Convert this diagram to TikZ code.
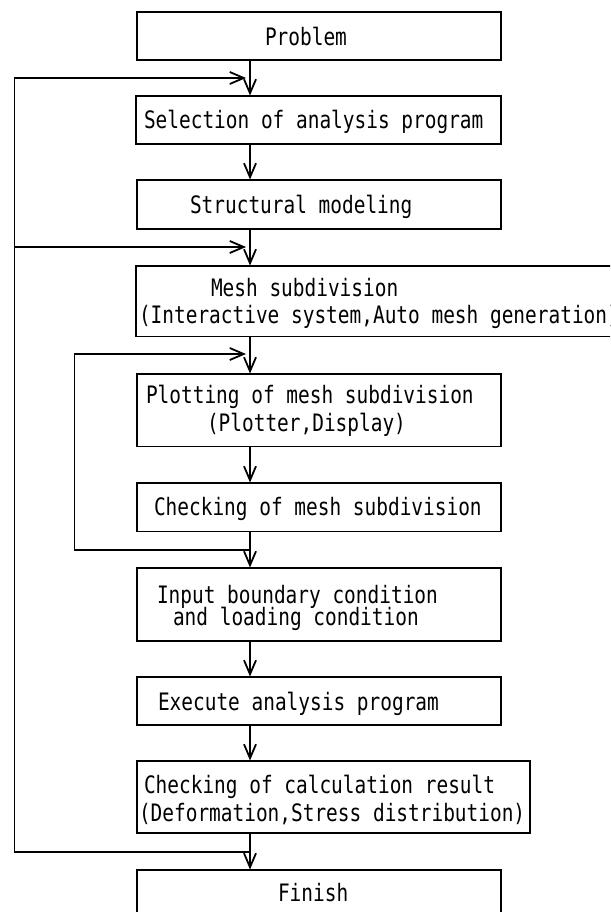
\documentclass[tikz,border=0pt]{standalone}
\usepackage{fontspec}
\setmainfont[FakeStretch=0.81]{DejaVu Sans Mono}
\usetikzlibrary{arrows.meta}
\begin{document}
\begin{tikzpicture}[x=1pt,y=-1pt,
  box/.style={draw, line width=1.3pt, rectangle, inner sep=0pt, outer sep=0pt, anchor=north west},
  txt/.style={anchor=base west, inner sep=0pt, outer sep=0pt, font=\fontsize{24}{28}\selectfont},
  arr/.style={line width=1.3pt, -{Straight Barb[length=14pt,width=12pt,line width=1.8pt]}, shorten >=0.5pt},
  harr/.style={arr, shorten >=4pt},
  ln/.style={line width=1.3pt}]
\useasboundingbox (0,0) rectangle (610,912);
\fill[white] (0,0) rectangle (610,912);
\clip (0,0) rectangle (610,912);
% boxes
\node[box, minimum width=364pt, minimum height=48pt]   (b1)  at (137,12)  {};
\node[box, minimum width=365pt, minimum height=48pt]   (b2)  at (136,96)  {};
\node[box, minimum width=364pt, minimum height=49pt]   (b3)  at (137,180) {};
\node[box, minimum width=500pt, minimum height=70.5pt] (b4)  at (136,266) {};
\node[box, minimum width=364pt, minimum height=72.5pt] (b5)  at (137,374) {};
\node[box, minimum width=364pt, minimum height=48.5pt] (b6)  at (137,483) {};
\node[box, minimum width=364pt, minimum height=73pt]   (b7)  at (137,568) {};
\node[box, minimum width=364pt, minimum height=48pt]   (b8)  at (137,677) {};
\node[box, minimum width=393pt, minimum height=72pt]   (b9)  at (137,761) {};
\node[box, minimum width=364pt, minimum height=60pt]   (b10) at (137,870) {};
% texts
\node[txt] (t1)  at (265,45.5)  {Problem};
\node[txt] (t2)  at (144,128.5) {Selection of analysis program};
\node[txt] (t3)  at (190,213.5) {Structural modeling};
\node[txt] (t4a) at (211,296.5) {Mesh subdivision};
\node[txt] (t4b) at (139,323.5) {(Interactive system,Auto mesh generation)};
\node[txt] (t5a) at (146,403.5) {Plotting of mesh subdivision};
\node[txt] (t5b) at (207,431.5) {(Plotter,Display)};
\node[txt] (t6)  at (154,515.5) {Checking of mesh subdivision};
\node[txt] (t7a) at (157,603.5) {Input boundary condition};
\node[txt] (t7b) at (173,625.5) {and loading condition};
\node[txt] (t8)  at (158,710.5) {Execute analysis program};
\node[txt] (t9a) at (144,793.5) {Checking of calculation result};
\node[txt] (t9b) at (139,821.5) {(Deformation,Stress distribution)};
\node[txt] (t10) at (278,901.5) {Finish};
% main arrows
\coordinate (ax) at (250,0);
\draw[arr] (b1.south -| ax) -- (b2.north -| ax);
\draw[arr] (b2.south -| ax) -- (b3.north -| ax);
\draw[arr] (b3.south -| ax) -- (b4.north -| ax);
\draw[arr] (b4.south -| ax) -- (b5.north -| ax);
\draw[arr] (b5.south -| ax) -- (b6.north -| ax);
\draw[arr] (b6.south -| ax) -- (b7.north -| ax);
\draw[arr] (b7.south -| ax) -- (b8.north -| ax);
\draw[arr] (b8.south -| ax) -- (b9.north -| ax);
\draw[arr] (b9.south -| ax) -- (b10.north -| ax);
% outer feedback loop
\coordinate (oj) at (250,852);
\coordinate (ob) at (14.4,852);
\coordinate (ot) at (14.4,78);
\coordinate (e1) at (250,78);
\coordinate (om) at (14.4,247);
\coordinate (e2) at (250,247);
\draw[harr] (oj) -- (ob) -- (ot) -- (e1);
\draw[harr] (om) -- (e2);
% inner feedback loop
\coordinate (ij) at (250,550);
\coordinate (il) at (74.7,550);
\coordinate (it) at (74.7,354);
\coordinate (e3) at (250,354);
\draw[harr] (ij) -- (il) -- (it) -- (e3);
\end{tikzpicture}
\end{document}
